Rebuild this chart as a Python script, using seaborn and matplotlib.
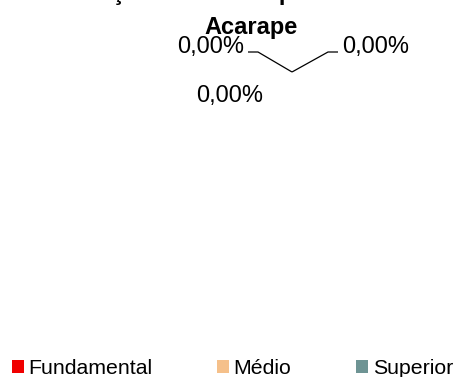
import numpy as np
import matplotlib
matplotlib.use("Agg")
import matplotlib.pyplot as plt
from matplotlib.patches import Patch
import seaborn as sns

# Dados do gráfico (todos os valores são zero)
categorias = ["Fundamental", "Médio", "Superior"]
valores = [0.0, 0.0, 0.0]
cores = ["#F00000", "#F5C08A", "#6E9494"]
titulo = "Distribuição de Ensino por Nível\nAcarape"

sns.set_style("white")
plt.rcParams["font.family"] = ["Liberation Sans", "DejaVu Sans"]
plt.rcParams["text.color"] = "black"

W, H = 457, 377
fig = plt.figure(figsize=(W / 100, H / 100), dpi=100)
ax = fig.add_axes([0, 0, 1, 1])
ax.set_xlim(0, W)
ax.set_ylim(H, 0)
ax.axis("off")

# rótulos no formato brasileiro
total = sum(valores)
percentuais = [(v / total * 100) if total else 0.0 for v in valores]
rotulos = [f"{p:.2f}%".replace(".", ",") for p in percentuais]

# centro da pizza (sem área, pois a soma é zero)
cx, cy = 292, 72

# linhas de chamada: centro -> cotovelo -> ponta
chamadas = [(-34, -20, -44), (36, -20, 46), None]
for c in chamadas:
    if c is None:
        continue
    ex, ey, tx = c
    ax.plot([cx, cx + ex, cx + tx], [cy, cy + ey, cy + ey], color="black", lw=0.9,
            solid_capstyle="butt")

# posições dos rótulos (deslocamento a partir do centro)
pos = [(-48, -19, "right"), (50, -19, "left"), (-62, 30, "center")]
for r, (dx, dy, ha) in zip(rotulos, pos):
    ax.text(cx + dx, cy + dy, r, ha=ha, va="baseline", fontsize=17, color="black")

# título (primeira linha cortada no topo)
linhas = titulo.split("\n")
ax.text(198, 0, linhas[0], ha="center", va="baseline", fontsize=17, fontweight="bold",
        color="black")
ax.text(251, 34, linhas[1], ha="center", va="baseline", fontsize=17, fontweight="bold",
        color="black")

handles = [Patch(facecolor=c, edgecolor="none") for c in cores]
leg = fig.legend(handles, categorias, loc="lower left", bbox_to_anchor=(12 / W, -1 / H),
                 ncol=3, frameon=False, fontsize=15.3, handlelength=0.55, handleheight=0.55,
                 handletextpad=0.22, columnspacing=3.05, borderpad=0, borderaxespad=0)
for t in leg.get_texts():
    t.set_color("black")

fig.savefig("out.png", dpi=100)
